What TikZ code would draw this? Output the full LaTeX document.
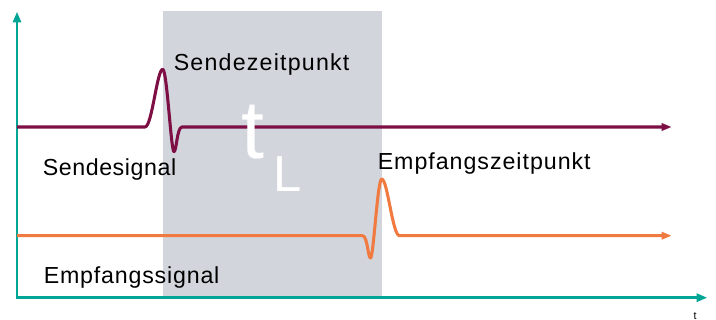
\documentclass[tikz,border=0pt]{standalone}
\usepackage{fontspec}
\usetikzlibrary{arrows.meta}
\newfontfamily\labfont{Liberation Sans}
\definecolor{axisteal}{HTML}{00A596}
\definecolor{sendred}{HTML}{7D0F45}
\definecolor{recvorange}{HTML}{F07A40}
\definecolor{windowgray}{HTML}{D2D6DC}
\tikzset{
  axisline/.style={axisteal, line width=2pt, -{Triangle[length=8pt,width=6pt]}},
  signal/.style={line width=2.3pt, line join=round, -{Triangle[length=7.5pt,width=5.4pt]}},
  label/.style={inner sep=0pt, anchor=base west, font=\labfont\fontsize{17.4pt}{20pt}\selectfont},
}
\begin{document}
\begin{tikzpicture}[x=0.75pt,y=-0.75pt]
  \useasboundingbox (0,0) rectangle (716,320);

  % transit-time window
  \fill[windowgray] (163,10.7) rectangle (381.7,297.7);

  % axes
  \draw[axisline] (17,298.7) -- (17,11.7);
  \draw[axisline] (16,297.7) -- (707.3,297.7);
  \node[inner sep=0pt, anchor=base, font=\labfont\fontsize{8pt}{9pt}\selectfont] (taxis) at (695,319) {t};

  % transmitted pulse
  \draw[signal, sendred] (17,127) -- (145,127)
    .. controls (152,127) and (157,69.3) .. (162.7,69.3)
    .. controls (167,69.3) and (171,151.7) .. (174,151.7)
    .. controls (176.5,151.7) and (177,127) .. (182,127)
    -- (671.7,127);

  % received pulse
  \draw[signal, recvorange] (17,235.7) -- (362.5,235.7)
    .. controls (367.5,235.7) and (368,258) .. (370.5,258)
    .. controls (373.5,258) and (377.5,179) .. (381.7,179)
    .. controls (387.5,179) and (392.5,235.7) .. (399.5,235.7)
    -- (671.7,235.7);

  % transit time symbol
  \node[inner sep=0pt, anchor=base west, text=white, font=\labfont\fontsize{62pt}{62pt}\selectfont] (tsym) at (241.5,159) {t};
  \node[inner sep=0pt, anchor=base west, text=white, font=\labfont\fontsize{38pt}{38pt}\selectfont] (lsym) at (273,191.7) {L};

  % labels
  \node[label] (sendtime) at (173.5,71) {\addfontfeature{LetterSpace=5.2}Sendezeitpunkt};
  \node[label] (sendsig) at (42.5,175.7) {\addfontfeature{LetterSpace=2.5}Sendesignal};
  \node[label] (recvtime) at (377.5,169.3) {\addfontfeature{LetterSpace=4.2}Empfangszeitpunkt};
  \node[label] (recvsig) at (43.5,283.3) {\addfontfeature{LetterSpace=3.5}Empfangssignal};
\end{tikzpicture}
\end{document}
